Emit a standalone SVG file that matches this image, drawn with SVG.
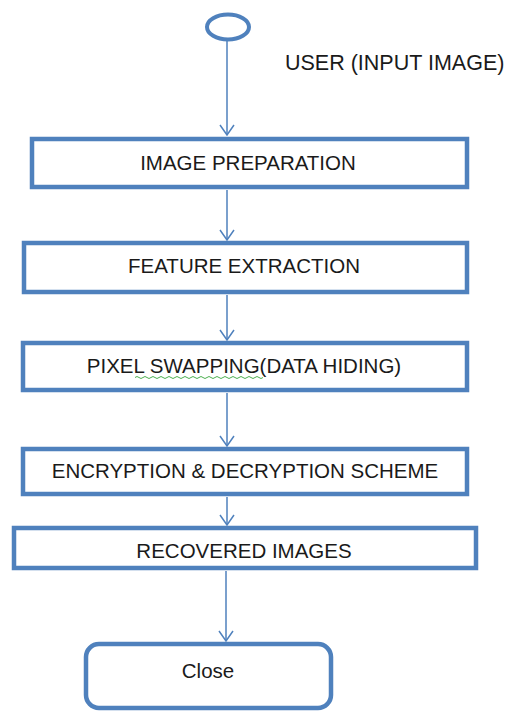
<svg xmlns="http://www.w3.org/2000/svg" width="506" height="711" viewBox="0 0 506 711">
<style>
.box{fill:#ffffff;stroke:#4F81BD;stroke-width:4.5}
.lbl{font-family:"Liberation Sans",Arial,sans-serif;font-size:20.5px;fill:#1a1a1a;text-anchor:middle}
.con{stroke:#4F81BD;stroke-width:1.5;fill:none}
</style>
<defs>
<marker id="arr" viewBox="0 0 12 16" refX="11" refY="8" markerWidth="12" markerHeight="16" markerUnits="userSpaceOnUse" orient="auto">
<path d="M1,1 L11,8 L1,15" fill="none" stroke="#4F81BD" stroke-width="1.5"/>
</marker>
</defs>
<rect width="506" height="711" fill="#ffffff"/>
<g id="connectors">
<line class="con" x1="227" y1="41" x2="227" y2="135" marker-end="url(#arr)"/>
<line class="con" x1="227" y1="190" x2="227" y2="240" marker-end="url(#arr)"/>
<line class="con" x1="227" y1="295" x2="227" y2="340" marker-end="url(#arr)"/>
<line class="con" x1="227" y1="393" x2="227" y2="446" marker-end="url(#arr)"/>
<line class="con" x1="227" y1="497" x2="227" y2="525" marker-end="url(#arr)"/>
<line class="con" x1="226" y1="571" x2="226" y2="641" marker-end="url(#arr)"/>
</g>
<g id="start">
<ellipse cx="228" cy="27" rx="21" ry="12.5" fill="#ffffff" stroke="#4F81BD" stroke-width="4"/>
<text class="lbl" x="285" y="70" style="text-anchor:start;font-size:21.5px">USER (INPUT IMAGE)</text>
</g>
<g id="image-preparation">
<rect class="box" x="32" y="139" width="435" height="48"/>
<text class="lbl" x="248" y="170">IMAGE PREPARATION</text>
</g>
<g id="feature-extraction">
<rect class="box" x="24" y="243" width="443" height="49"/>
<text class="lbl" x="244" y="273">FEATURE EXTRACTION</text>
</g>
<g id="pixel-swapping">
<rect class="box" x="23" y="343" width="444" height="47"/>
<text class="lbl" x="244" y="373">PIXEL SWAPPING(DATA HIDING)</text>
<path d="M135,377.5 q2,-2 4,0 t4,0 t4,0 t4,0 t4,0 t4,0 t4,0 t4,0 t4,0 t4,0 t4,0 t4,0 t4,0 t4,0 t4,0 t4,0 t4,0 t4,0 t4,0 t4,0 t4,0 t4,0 t4,0 t4,0 t4,0 t4,0 t4,0 t4,0 t4,0 t4,0 t4,0 t4,0" fill="none" stroke="#4caf50" stroke-width="1"/>
</g>
<g id="encryption">
<rect class="box" x="23" y="449" width="444" height="45"/>
<text class="lbl" x="245" y="478">ENCRYPTION &amp; DECRYPTION SCHEME</text>
</g>
<g id="recovered">
<rect class="box" x="14" y="528" width="462" height="40"/>
<text class="lbl" x="244" y="558">RECOVERED IMAGES</text>
</g>
<g id="close">
<rect class="box" x="86" y="644" width="245" height="64" rx="13" ry="13"/>
<text class="lbl" x="208" y="678">Close</text>
</g>
</svg>
